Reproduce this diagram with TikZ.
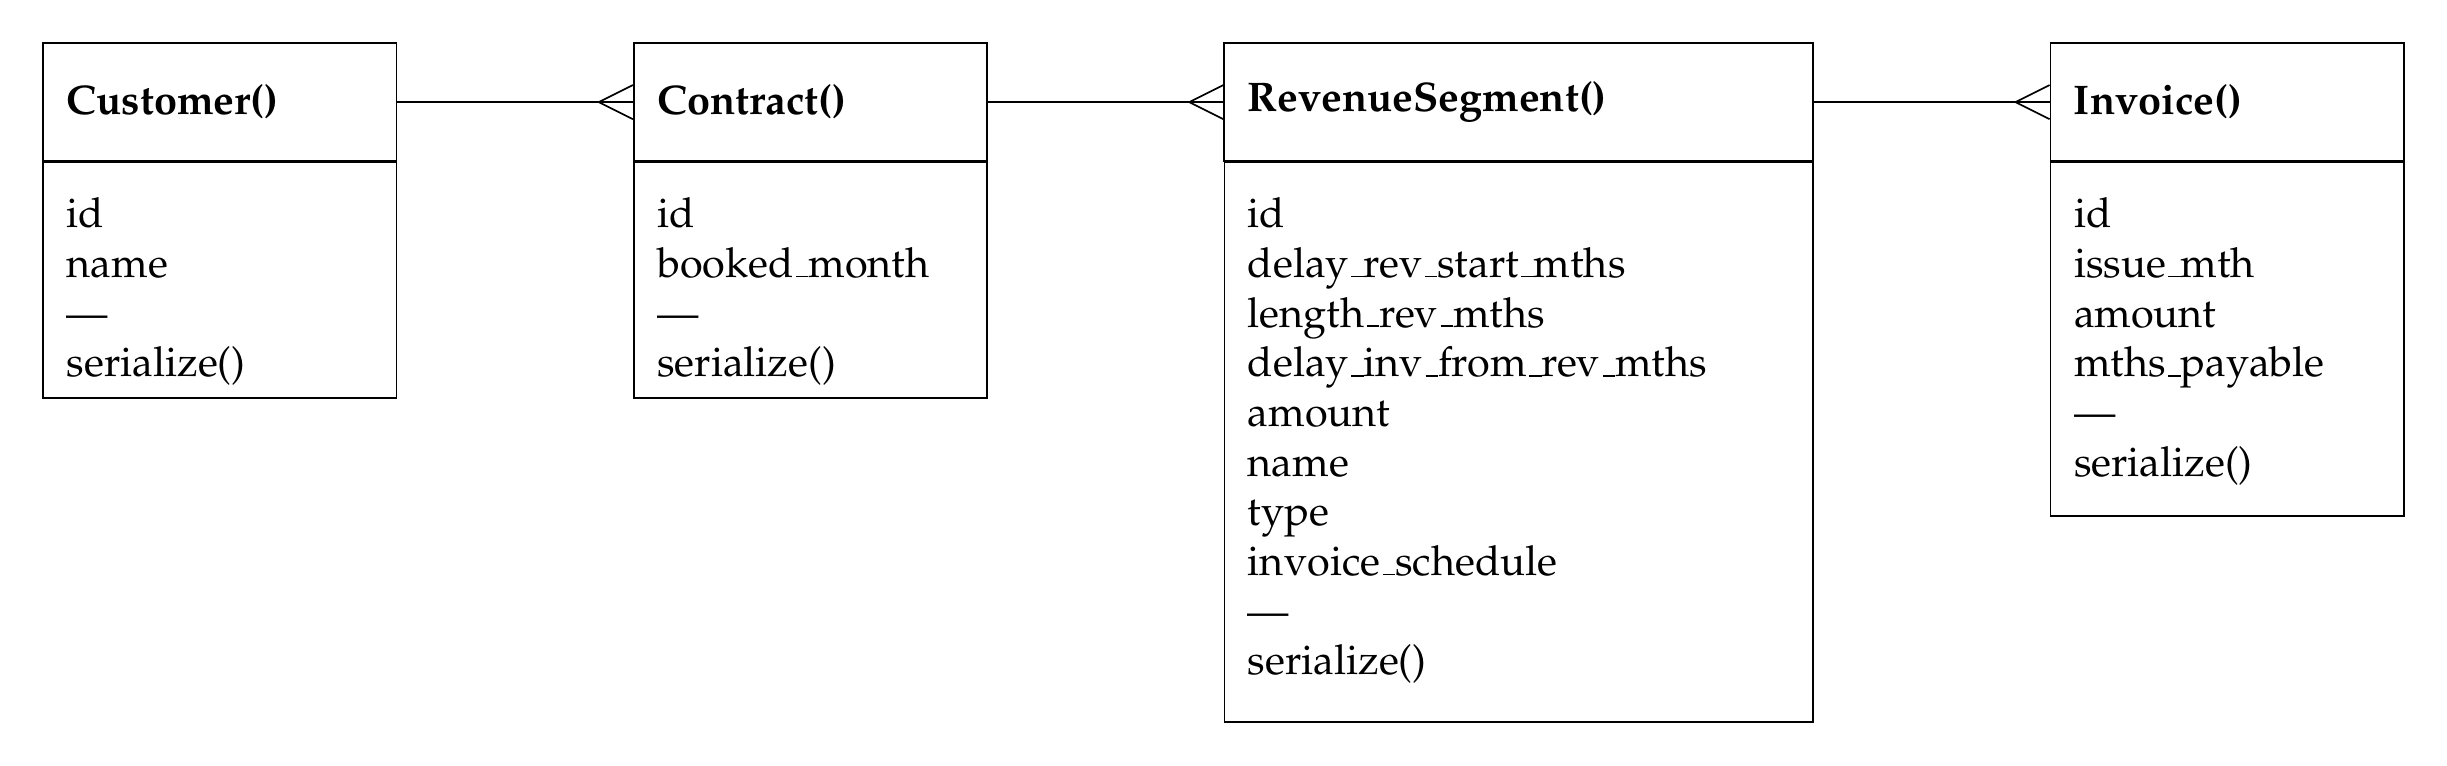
\documentclass[tikz,border=0pt]{standalone}
\usepackage[OT1]{fontenc}
\usepackage{mathpazo}
\usepackage{tikz}
\usetikzlibrary{positioning}

\begin{document}
\begin{tikzpicture}
\tikzstyle{title} = [rectangle, draw, text width=2.6cm, align=left,
inner xsep=0.2cm, minimum height=1cm, font=\bfseries]
\tikzstyle{attrs} = [rectangle, draw, text width=2.6cm, align=left,
inner xsep=0.2cm, inner ysep=0pt, text height=15.7pt]
\matrix [column sep=2cm]
{
% row 1
\node [title] (customer) {Customer()}; &
\node [title] (contract) {Contract()}; &
\node [title, text width=4.6cm] (revseg) {RevenueSegment()}; &
\node [title] (invoice) {Invoice()}; \\
};
% fields and methods
\node [attrs, text depth=41.2pt, below=0pt of customer] (customer_body)
{id\\ name\\ ---\\ serialize()};
\node [attrs, text depth=41.2pt, below=0pt of contract] (contract_body)
{id\\ booked\_month\\ ---\\ serialize()};
\node [attrs, text width=4.6cm, text depth=119.4pt, below=0pt of revseg] (revseg_body)
{id\\ delay\_rev\_start\_mths\\ length\_rev\_mths\\ delay\_inv\_from\_rev\_mths\\
amount\\ name\\ type\\ invoice\_schedule\\ ---\\ serialize()};
\node [attrs, text depth=69.7pt, below=0pt of invoice] (invoice_body)
{id\\ issue\_mth\\ amount\\ mths\_payable\\ ---\\ serialize()};

\draw (customer.east) -- (contract.west);
\draw (contract.east) -- (revseg.west);
\draw (revseg.east) -- (invoice.west);
% crow's feet
\foreach \n in {contract,revseg,invoice}
  \draw ([yshift=0.145cm]\n.west) -- ([xshift=-0.29cm]\n.west)
        -- ([yshift=-0.145cm]\n.west);

\coordinate (corner) at (invoice.east |- revseg_body.south);
\path [use as bounding box] ([shift={(-0.36cm,0.36cm)}]customer.north west)
  rectangle ([shift={(0.36cm,-0.36cm)}]corner);
\end{tikzpicture}
\end{document}
